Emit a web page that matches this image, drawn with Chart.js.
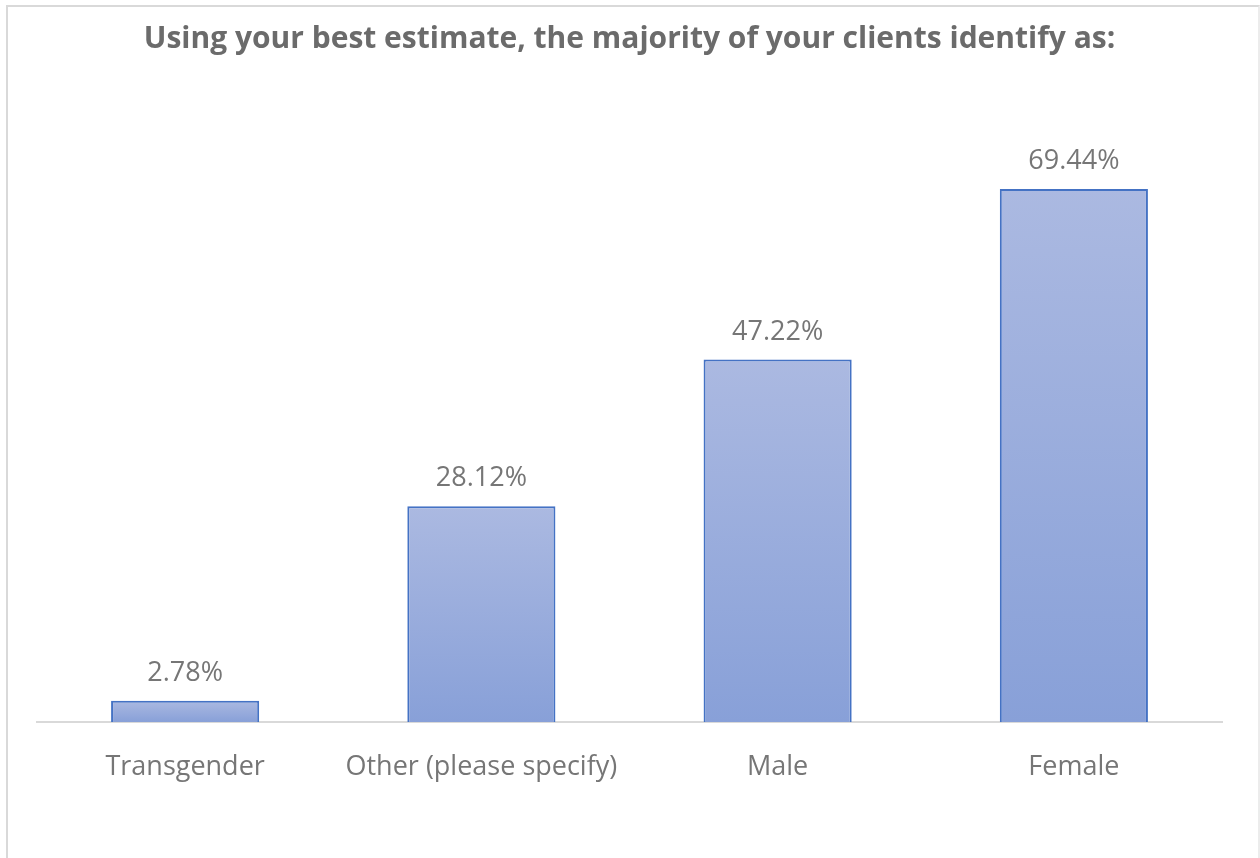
<!DOCTYPE html>
<html>
<head>
<meta charset="utf-8">
<script src="https://cdn.jsdelivr.net/npm/chart.js@4.4.1/dist/chart.umd.min.js"></script>
<style>
  html, body { margin: 0; padding: 0; background: #ffffff; overflow: hidden; }
  #frame { position: absolute; left: 6px; top: 5px; width: 1254px; height: 900px; border: 2px solid #d9d9d9; border-bottom: none; border-right-color: #ececec; box-sizing: border-box; }
  #wrap { position: absolute; left: 0; top: 0; width: 1260px; height: 858px; }
</style>
</head>
<body>
<div id="frame"></div>
<div id="wrap"><canvas id="c" width="1260" height="858"></canvas></div>
<script>
const titleText = "Using your best estimate, the majority of your clients identify as:";
const categories = ["Transgender", "Other (please specify)", "Male", "Female"];
const values = [2.78, 28.12, 47.22, 69.44];
const valueLabels = ["2.78%", "28.12%", "47.22%", "69.44%"];

const FONT = "'Open Sans', 'Noto Sans', sans-serif";

const dataLabelPlugin = {
  id: 'dataLabels',
  afterDatasetsDraw(chart) {
    const ctx = chart.ctx;
    const meta = chart.getDatasetMeta(0);
    ctx.save();
    ctx.font = "27px " + FONT;
    ctx.fillStyle = "#767676";
    ctx.textAlign = "center";
    ctx.textBaseline = "alphabetic";
    meta.data.forEach((bar, i) => {
      ctx.fillText(valueLabels[i], bar.x, bar.y - 20);
    });
    ctx.restore();
  }
};

function barGradient(context) {
  const chart = context.chart;
  const { ctx, scales, chartArea } = chart;
  if (!chartArea || !scales.y || context.type !== 'data') return '#9aaddc';
  const v = values[context.dataIndex];
  const top = scales.y.getPixelForValue(v);
  const bottom = scales.y.getPixelForValue(0);
  if (!isFinite(top) || !isFinite(bottom)) return '#9aaddc';
  const g = ctx.createLinearGradient(0, top, 0, bottom);
  g.addColorStop(0, '#abb9e1');
  g.addColorStop(1, '#88a0d8');
  return g;
}

new Chart(document.getElementById('c'), {
  type: 'bar',
  data: {
    labels: categories,
    datasets: [{
      data: values,
      backgroundColor: barGradient,
      borderColor: '#4472c4',
      borderWidth: 2,
      borderSkipped: 'bottom',
      barPercentage: 1.0,
      categoryPercentage: 0.5
    }]
  },
  options: {
    responsive: false,
    animation: false,
    events: [],
    layout: { padding: { left: 37, right: 38, top: 0, bottom: 0 } },
    plugins: {
      legend: { display: false },
      tooltip: { enabled: false },
      title: {
        display: true,
        text: titleText,
        color: '#6b6b6b',
        font: { family: FONT, size: 30, weight: 'bold', lineHeight: 1.2 },
        padding: { top: 21, bottom: 51 }
      }
    },
    scales: {
      x: {
        grid: { display: false, drawTicks: false },
        border: { display: true, color: '#d9d9d9', width: 2 },
        ticks: { color: '#767676', font: { family: FONT, size: 27 }, padding: 29 },
        afterFit(scale) { scale.height = 136; }
      },
      y: {
        display: false,
        min: 0,
        max: 80
      }
    }
  },
  plugins: [dataLabelPlugin]
});
</script>
</body>
</html>
